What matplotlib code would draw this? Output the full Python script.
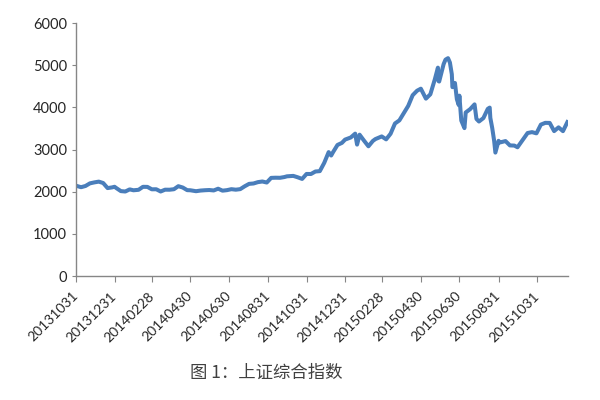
import matplotlib
matplotlib.use('Agg')
import matplotlib.pyplot as plt
import numpy as np
import pandas as pd

plt.rcParams['font.family'] = ['Lato', 'DejaVu Sans']

# closes of the index (mostly weekly)
dates = [
    '2013-10-31', '2013-11-08', '2013-11-15', '2013-11-22', '2013-11-29', '2013-12-06',
    '2013-12-13', '2013-12-20', '2013-12-27', '2013-12-31',
    '2014-01-03', '2014-01-10', '2014-01-17', '2014-01-24', '2014-01-30', '2014-02-07',
    '2014-02-14', '2014-02-21', '2014-02-28', '2014-03-07', '2014-03-14', '2014-03-21',
    '2014-03-28', '2014-04-04', '2014-04-11', '2014-04-18', '2014-04-25', '2014-04-30',
    '2014-05-09', '2014-05-16', '2014-05-23', '2014-05-30', '2014-06-06', '2014-06-13',
    '2014-06-20', '2014-06-27', '2014-07-04', '2014-07-11', '2014-07-18', '2014-07-25',
    '2014-08-01', '2014-08-08', '2014-08-15', '2014-08-22', '2014-08-29', '2014-09-05',
    '2014-09-12', '2014-09-19', '2014-09-26', '2014-09-30', '2014-10-10', '2014-10-17',
    '2014-10-24', '2014-10-31', '2014-11-07', '2014-11-14', '2014-11-21', '2014-11-28',
    '2014-12-05', '2014-12-09', '2014-12-12', '2014-12-19', '2014-12-26', '2014-12-31',
    '2015-01-09', '2015-01-16', '2015-01-19', '2015-01-23', '2015-01-30', '2015-02-06',
    '2015-02-13', '2015-02-17', '2015-02-27', '2015-03-06', '2015-03-13', '2015-03-20',
    '2015-03-27', '2015-04-03', '2015-04-10', '2015-04-17', '2015-04-24', '2015-04-30',
    '2015-05-08', '2015-05-15', '2015-05-22', '2015-05-27', '2015-05-28', '2015-05-29',
    '2015-06-05', '2015-06-08', '2015-06-12', '2015-06-15', '2015-06-18', '2015-06-19',
    '2015-06-23', '2015-06-26', '2015-06-29', '2015-06-30', '2015-07-03', '2015-07-08',
    '2015-07-10', '2015-07-17', '2015-07-24', '2015-07-27', '2015-07-31', '2015-08-07',
    '2015-08-14', '2015-08-17', '2015-08-18', '2015-08-21', '2015-08-24', '2015-08-26',
    '2015-08-31', '2015-09-02', '2015-09-11', '2015-09-18', '2015-09-25', '2015-09-30',
    '2015-10-16', '2015-10-23', '2015-10-30', '2015-11-06', '2015-11-13', '2015-11-20',
    '2015-11-27', '2015-12-04', '2015-12-11', '2015-12-18',
]
index_close = [
    2141, 2106, 2135, 2197, 2220, 2238,
    2205, 2085, 2101, 2116,
    2083, 2013, 2004, 2054, 2033, 2044,
    2115, 2113, 2056, 2057, 2004, 2047,
    2046, 2058, 2130, 2098, 2036, 2033,
    2011, 2026, 2034, 2039, 2029, 2070,
    2024, 2036, 2059, 2047, 2060, 2127,
    2185, 2194, 2226, 2241, 2217, 2327,
    2331, 2329, 2347, 2364, 2374, 2341,
    2302, 2420, 2419, 2478, 2487, 2683,
    2938, 2857, 2938, 3108, 3157, 3235,
    3285, 3376, 3116, 3351, 3210, 3076,
    3203, 3247, 3310, 3241, 3373, 3617,
    3691, 3864, 4035, 4287, 4394, 4442,
    4206, 4309, 4658, 4941, 4620, 4612,
    5023, 5131, 5166, 5062, 4785, 4478,
    4577, 4193, 4053, 4277, 3687, 3507,
    3878, 3957, 4070, 3725, 3664, 3745,
    3965, 3993, 3749, 3508, 3209, 2927,
    3206, 3166, 3200, 3097, 3093, 3053,
    3391, 3412, 3383, 3590, 3632, 3630,
    3436, 3525, 3435, 3650,
]
tick_labels = ['20131031', '20131231', '20140228', '20140430', '20140630', '20140831',
               '20141031', '20141231', '20150228', '20150430', '20150630', '20150831',
               '20151031']

x = pd.to_datetime(dates)
ticks = pd.to_datetime(tick_labels, format='%Y%m%d')

fig = plt.figure(figsize=(6, 4), dpi=100)
ax = fig.add_axes([0.1267, 0.31, 0.82, 0.6325])

ax.plot(x, index_close, '-', color='#4A7EBB', linewidth=2.9, solid_joinstyle='round')

ax.set_xlim(pd.Timestamp('2013-10-31'), pd.Timestamp('2015-12-19'))
ax.set_ylim(0, 6000)
ax.set_yticks(np.arange(0, 6001, 1000))
ax.set_xticks(ticks)
ax.set_xticklabels(tick_labels, rotation=45, ha='right', va='center',
                   rotation_mode='anchor', fontsize=10, color='#262626')
ax.tick_params(axis='y', labelsize=10.5, labelcolor='#262626', length=3, color='#868686')
ax.tick_params(axis='x', length=4, color='#868686', pad=9)

for side in ['top', 'right']:
    ax.spines[side].set_visible(False)
for side in ['left', 'bottom']:
    ax.spines[side].set_color('#868686')
    ax.spines[side].set_linewidth(1.0)

fig.text(0.443, 0.068, '图 1：上证综合指数', ha='center', va='center', fontsize=12.5,
         color='#404040', family=['Noto Sans CJK SC', 'DejaVu Sans'])

plt.savefig('out.png', dpi=100)
